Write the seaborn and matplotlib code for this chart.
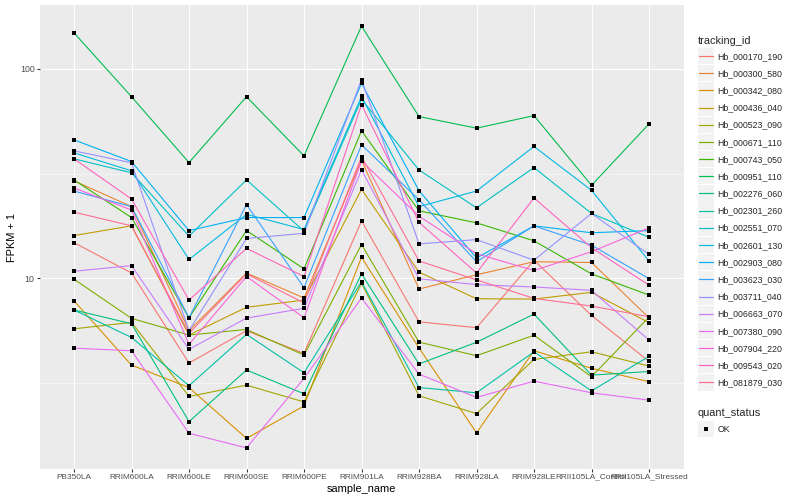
import numpy as np
import pandas as pd
import matplotlib
matplotlib.use("Agg")
import matplotlib.pyplot as plt
import seaborn as sns
from matplotlib.legend_handler import HandlerBase
from matplotlib.patches import Rectangle
from matplotlib.lines import Line2D
from matplotlib.ticker import FixedLocator, NullFormatter

# ---------------- data (FPKM + 1) ----------------
samples = ["PB350LA", "RRIM600LA", "RRIM600LE", "RRIM600SE", "RRIM600PE",
           "RRIM901LA", "RRIM928BA", "RRIM928LA", "RRIM928LE",
           "RRII105LA_Control", "RRII105LA_Stressed"]

tracking_ids = ["Hb_000170_190", "Hb_000300_580", "Hb_000342_080", "Hb_000436_040",
                "Hb_000523_090", "Hb_000671_110", "Hb_000743_050", "Hb_000951_110",
                "Hb_002276_060", "Hb_002301_260", "Hb_002551_070", "Hb_002601_130",
                "Hb_002903_080", "Hb_003623_030", "Hb_003711_040", "Hb_006663_070",
                "Hb_007380_090", "Hb_007904_220", "Hb_009543_020", "Hb_081879_030"]

hb_000170_190 = [14.8, 10.6, 3.94, 5.62, 4.38, 18.8, 6.20, 5.81, 12.2, 6.65, 4.01]
hb_000300_580 = [29.2, 22.0, 5.62, 10.6, 8.05, 36.7, 8.89, 10.4, 12.0, 11.9, 6.48]
hb_000342_080 = [7.81, 3.85, 3.01, 1.72, 2.46, 12.6, 4.65, 1.83, 4.51, 3.72, 3.21]
hb_000436_040 = [16.0, 17.8, 5.36, 7.27, 7.87, 26.6, 10.7, 7.99, 7.96, 8.57, 6.14]
hb_000523_090 = [5.74, 6.16, 2.73, 3.09, 2.57, 9.47, 2.75, 2.26, 4.10, 4.46, 3.81]
hb_000671_110 = [9.90, 6.44, 5.36, 5.70, 4.30, 14.5, 4.96, 4.27, 5.35, 3.39, 6.53]
hb_000743_050 = [29.5, 19.5, 6.48, 16.9, 11.1, 50.6, 21.0, 18.4, 15.1, 10.5, 8.32]
hb_000951_110 = [148.6, 73.6, 35.7, 73.6, 38.4, 160.0, 59.2, 52.1, 59.8, 27.8, 54.6]
hb_002276_060 = [7.06, 6.07, 2.07, 3.65, 2.81, 10.5, 3.90, 4.95, 6.75, 3.45, 3.59]
hb_002301_260 = [7.06, 5.22, 3.07, 5.40, 3.54, 9.63, 3.01, 2.84, 4.46, 2.90, 4.24]
hb_002551_070 = [37.2, 31.9, 15.9, 29.5, 16.8, 71.6, 32.9, 21.7, 33.8, 20.4, 15.7]
hb_002601_130 = [39.7, 32.6, 12.3, 20.2, 17.1, 73.8, 22.0, 26.1, 42.6, 26.3, 12.1]
hb_002903_080 = [45.8, 36.1, 16.9, 19.5, 19.5, 85.4, 26.2, 12.5, 17.8, 16.5, 16.9]
hb_003623_030 = [26.1, 22.0, 6.48, 22.5, 9.02, 43.4, 23.7, 12.0, 17.8, 14.4, 9.96]
hb_003711_040 = [40.6, 35.6, 5.62, 15.5, 16.4, 88.9, 14.6, 15.3, 12.2, 20.4, 13.0]
hb_006663_070 = [10.8, 11.5, 4.58, 6.46, 7.19, 33.0, 9.95, 9.33, 9.09, 8.76, 5.07]
hb_007380_090 = [4.64, 4.51, 1.82, 1.55, 3.33, 8.05, 3.49, 2.70, 3.23, 2.84, 2.62]
hb_007904_220 = [27.0, 21.2, 4.84, 10.2, 6.48, 36.3, 19.8, 13.1, 10.9, 13.4, 17.4]
hb_009543_020 = [37.2, 23.9, 7.87, 13.9, 10.2, 67.5, 18.5, 10.6, 24.2, 14.0, 9.27]
hb_081879_030 = [20.7, 17.8, 5.46, 10.5, 7.64, 38.1, 12.1, 9.83, 8.02, 7.37, 6.55]

series_values = [hb_000170_190, hb_000300_580, hb_000342_080, hb_000436_040,
                 hb_000523_090, hb_000671_110, hb_000743_050, hb_000951_110,
                 hb_002276_060, hb_002301_260, hb_002551_070, hb_002601_130,
                 hb_002903_080, hb_003623_030, hb_003711_040, hb_006663_070,
                 hb_007380_090, hb_007904_220, hb_009543_020, hb_081879_030]

quant_status = "OK"

# ---------------- styles ----------------
palette = ["#F8766D", "#EA8331", "#D89000", "#C09B00", "#A3A500", "#7CAE00",
           "#39B600", "#00BB4E", "#00BF7D", "#00C1A3", "#00BFC4", "#00BAE0",
           "#00B0F6", "#35A2FF", "#9590FF", "#C77CFF", "#E76BF3", "#FA62DB",
           "#FF62BC", "#FF6C91"]

rows = []
for tid, vals in zip(tracking_ids, series_values):
    for s, v in zip(samples, vals):
        rows.append({"tracking_id": tid, "sample_name": s, "fpkm1": v,
                     "quant_status": quant_status})
df = pd.DataFrame(rows)
df["sample_name"] = pd.Categorical(df["sample_name"], categories=samples, ordered=True)
df["xpos"] = df["sample_name"].cat.codes

sns.set_theme(style="darkgrid")
plt.rcParams["font.family"] = ["Liberation Sans", "DejaVu Sans"]

DPI = 100
PX = 72.0 / DPI  # points per pixel

fig = plt.figure(figsize=(8, 5), dpi=DPI)
fig.patch.set_facecolor("white")
ax = fig.add_axes([39.5 / 800, 1 - 469 / 500, (683.5 - 39.5) / 800, (469 - 5) / 500])
ax.set_facecolor("#EBEBEB")

sns.lineplot(data=df, x="xpos", y="fpkm1", hue="tracking_id", hue_order=tracking_ids,
             palette=palette, linewidth=1.1 * PX, legend=False, sort=False,
             estimator=None, ax=ax, zorder=3)
sns.scatterplot(data=df, x="xpos", y="fpkm1", color="black", marker="s",
                s=(3.6 * PX) ** 2, linewidth=0, legend=False, ax=ax, zorder=4)

ax.set_yscale("log")
lv = np.log10(df["fpkm1"].to_numpy())
span = lv.max() - lv.min()
ax.set_ylim(10 ** (lv.min() - 0.05 * span), 10 ** (lv.max() + 0.05 * span))
ax.set_xlim(-0.6, len(samples) - 1 + 0.6)

ax.yaxis.set_major_locator(FixedLocator([10, 100]))
ax.set_yticklabels(["10", "100"])
ax.yaxis.set_minor_locator(FixedLocator([10 ** 0.5, 10 ** 1.5, 10 ** 2.5]))
ax.yaxis.set_minor_formatter(NullFormatter())
ax.set_xticks(range(len(samples)))
ax.set_xticklabels(samples)

ax.grid(which="major", color="white", linewidth=1.07 * PX)
ax.grid(which="minor", axis="y", color="white", linewidth=0.53 * PX)
ax.grid(which="minor", axis="x", visible=False)
for sp in ax.spines.values():
    sp.set_visible(False)

ax.tick_params(axis="y", which="major", length=2.75 * PX, width=1.07 * PX,
               color="#333333", labelcolor="#4D4D4D", labelsize=8.8 * PX, pad=2.2 * PX,
               left=True)
ax.tick_params(axis="x", which="major", length=2.75 * PX, width=1.07 * PX,
               color="#333333", labelcolor="#4D4D4D", labelsize=8.3 * PX, pad=2.0 * PX,
               bottom=True)
ax.tick_params(axis="y", which="minor", length=0, left=False)

ax.set_xlabel("sample_name", fontsize=11 * PX, color="black", labelpad=2.0)
ax.set_ylabel("FPKM + 1", fontsize=11 * PX, color="black", labelpad=2.0)


# ---------------- legends ----------------
KEY_PT = 17.3 * PX


class KeyHandler(HandlerBase):
    def __init__(self, color=None, square=False):
        super().__init__()
        self.color = color
        self.square = square

    def create_artists(self, legend, orig_handle, xdescent, ydescent, width, height,
                       fontsize, trans):
        yc = -ydescent + height / 2
        x0 = -xdescent
        side = KEY_PT - 1.0 * PX
        bg = Rectangle((x0 + 0.5 * PX, yc - side / 2), side, side,
                       facecolor="#F2F2F2", edgecolor="none", transform=trans)
        if self.square:
            mk = Line2D([x0 + KEY_PT / 2], [yc], marker="s", markersize=3.6 * PX,
                        markerfacecolor="black", markeredgewidth=0, linestyle="none",
                        transform=trans)
        else:
            mk = Line2D([x0 + 1.5 * PX, x0 + KEY_PT - 1.5 * PX], [yc, yc],
                        color=self.color, lw=1.2 * PX, transform=trans)
        return [bg, mk]


handles = [Line2D([], []) for _ in tracking_ids]
hmap = {h: KeyHandler(color=c) for h, c in zip(handles, palette)}
leg_fs = 8.8 * PX
key_em = 17.3 / 8.8
common = dict(loc="upper left", bbox_transform=fig.transFigure, frameon=False,
              fontsize=leg_fs, title_fontsize=11 * PX, handlelength=key_em,
              handleheight=key_em, labelspacing=0.43, handletextpad=0.3,
              borderpad=0, borderaxespad=0, alignment="left")
leg1 = ax.legend(handles, tracking_ids, handler_map=hmap, title="tracking_id",
                 bbox_to_anchor=(697.3 / 800, 1 - 35.5 / 500), **common)
ax.add_artist(leg1)

h2 = Line2D([], [])
leg2 = ax.legend([h2], [quant_status], handler_map={h2: KeyHandler(square=True)},
                 title="quant_status", bbox_to_anchor=(697.3 / 800, 1 - 408.5 / 500),
                 **common)

fig.savefig("out.png", dpi=DPI, facecolor="white")
